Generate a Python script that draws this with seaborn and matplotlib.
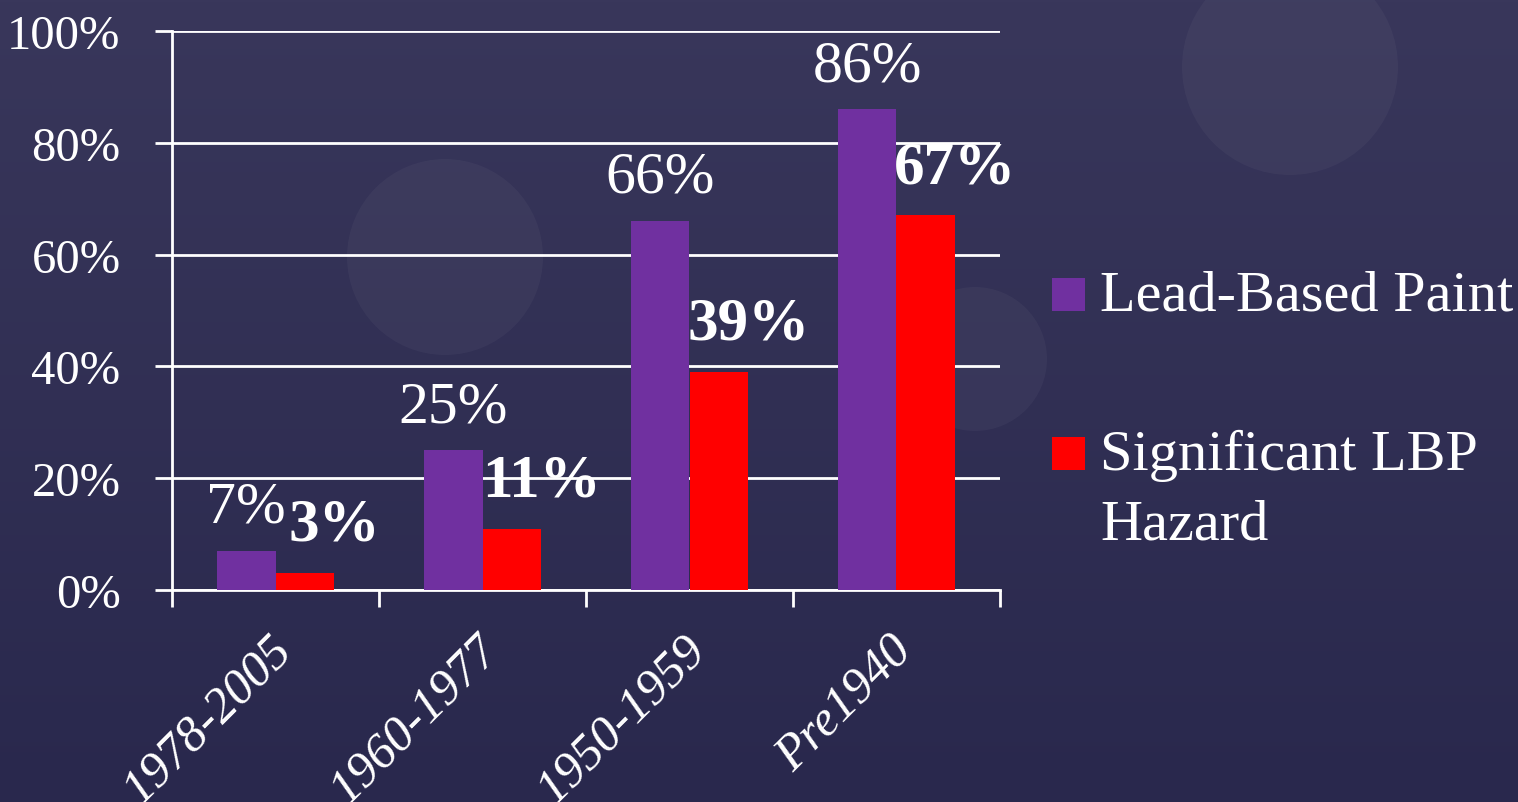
import numpy as np
import pandas as pd
import matplotlib.pyplot as plt
import matplotlib.transforms as mtransforms
import seaborn as sns
from matplotlib.patches import Circle, Rectangle

# data
periods = ["1978-2005", "1960-1977", "1950-1959", "Pre1940"]
lead_paint = [7, 25, 66, 86]
lbp_hazard = [3, 11, 39, 67]
series_names = ["Lead-Based Paint", "Significant LBP\nHazard"]
colors = {"Lead-Based Paint": "#7030A0", "Significant LBP\nHazard": "#FF0000"}
yticks = [0, 20, 40, 60, 80, 100]

df = pd.DataFrame({
    "period": periods * 2,
    "series": [series_names[0]] * 4 + [series_names[1]] * 4,
    "value": lead_paint + lbp_hazard,
})

sns.set_theme(style="white")
plt.rcParams["font.family"] = ["Liberation Serif", "DejaVu Serif"]

W, H = 1518, 803
fig = plt.figure(figsize=(W / 100, H / 100), dpi=100)

# slide-like background: gradient plus faint circles
bg = fig.add_axes([0, 0, 1, 1], zorder=-5)
grad = np.linspace(0, 1, 256).reshape(-1, 1)
top = np.array([0x39, 0x37, 0x5B]) / 255
bot = np.array([0x29, 0x28, 0x4D]) / 255
img = top + (bot - top) * grad[..., None]
bg.imshow(img, extent=(0, W, H, 0), aspect="auto")
for cx, cy, r in [(1290, 68, 108), (445, 258, 98), (975, 360, 72)]:
    bg.add_patch(Circle((cx, cy), r, color="white", alpha=0.035, lw=0))
bg.set_xlim(0, W)
bg.set_ylim(H, 0)
bg.axis("off")

ax = fig.add_axes([172 / W, 1 - 591 / H, 828 / W, 559 / H], zorder=1)
ax.patch.set_alpha(0)

sns.barplot(data=df, x="period", y="value", hue="series", palette=colors,
            width=0.57, saturation=1, ax=ax, zorder=3, edgecolor="none",
            linewidth=0, legend=False)

ax.set_xlim(-0.5, 3.5)
ax.set_ylim(0, 100)
ax.set_yticks(yticks)
ax.set_yticklabels([f"{v}%" for v in yticks])
ax.yaxis.grid(True, color="white", lw=2)
ax.set_axisbelow(True)
ax.set_xlabel("")
ax.set_ylabel("")

for s in ["top", "right"]:
    ax.spines[s].set_visible(False)
for s in ["left", "bottom"]:
    ax.spines[s].set_color("white")
    ax.spines[s].set_linewidth(2)

ax.tick_params(axis="y", left=True, length=12, width=2, color="white",
               labelcolor="white", labelsize=35, pad=25)
ax.set_xticks(np.arange(-0.5, 4, 1), minor=True)
ax.tick_params(axis="x", which="minor", bottom=True, length=12, width=2,
               color="white")
ax.tick_params(axis="x", which="major", length=0, pad=26, labelcolor="white",
               labelsize=36)
shift = mtransforms.ScaledTranslation(-8 / 100, 0, fig.dpi_scale_trans)
for lab in ax.get_xticklabels():
    lab.set_rotation(45)
    lab.set_ha("right")
    lab.set_va("top")
    lab.set_rotation_mode("anchor")
    lab.set_style("italic")
    lab.set_transform(lab.get_transform() + shift)

# value labels
for bar, v in zip(ax.containers[0], lead_paint):
    ax.annotate(f"{v}%", (bar.get_x() + bar.get_width() / 2, bar.get_height()),
                xytext=(0, 21), textcoords="offset points", ha="center",
                va="baseline", color="white", fontsize=43)
for bar, v in zip(ax.containers[1], lbp_hazard):
    ax.annotate(f"{v}%", (bar.get_x() + bar.get_width() / 2, bar.get_height()),
                xytext=(21, 24), textcoords="offset points", ha="center",
                va="baseline", color="white", fontsize=44, fontweight="bold")

# legend: square swatch next to the first line of each label
legend_rows = [(series_names[0], ax.containers[0][0].get_facecolor(), 312),
               (series_names[1], ax.containers[1][0].get_facecolor(), 471)]
for name, col, base in legend_rows:
    fig.add_artist(Rectangle((1052 / W, 1 - base / H), 33 / W, 33 / H,
                             transform=fig.transFigure, color=col, lw=0))
    for i, line in enumerate(name.split("\n")):
        fig.text(1100 / W, 1 - (base - 1 + i * 70) / H, line, color="white",
                 fontsize=42, ha="left", va="baseline")

fig.savefig("out.png", dpi=100)
